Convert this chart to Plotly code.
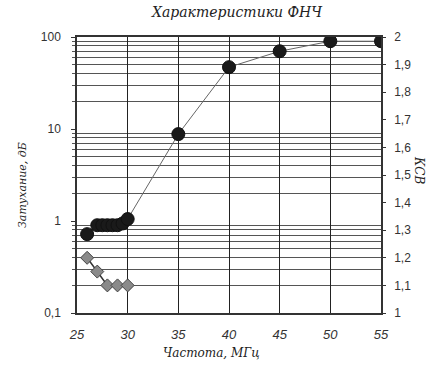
import plotly.graph_objects as go

# Attenuation (dB), left log axis
freq_att = [26, 27, 27.5, 28, 28.5, 29, 29.5, 30, 35, 40, 45, 50, 55]
att_db = [0.72, 0.9, 0.9, 0.9, 0.9, 0.9, 0.94, 1.05, 8.8, 47, 70, 90, 90]

# SWR (КСВ), right linear axis
freq_swr = [26, 27, 28, 29, 30]
swr = [1.2, 1.15, 1.1, 1.1, 1.1]

x_ticks = [25, 30, 35, 40, 45, 50, 55]

L, R, T, B = 77, 55, 37, 56
W, H = 436, 369
pw = W - L - R
ph = H - T - B

fig = go.Figure()
fig.add_trace(go.Scatter(
    x=freq_att, y=att_db, mode="lines+markers", yaxis="y",
    line=dict(color="#666666", width=1),
    marker=dict(symbol="circle", size=13, color="#1a1a1a",
                line=dict(color="#111111", width=1)),
    showlegend=False))
fig.add_trace(go.Scatter(
    x=freq_swr, y=swr, mode="lines+markers", yaxis="y2",
    line=dict(color="#333333", width=1.5),
    marker=dict(symbol="diamond", size=10, color="#8a8a8a",
                line=dict(color="#444444", width=1)),
    showlegend=False))

tickfont = dict(family="Liberation Sans, Arial", size=12, color="#333333")
fig.update_layout(
    width=W, height=H,
    margin=dict(l=L, r=R, t=T, b=B, autoexpand=False),
    paper_bgcolor="white", plot_bgcolor="white",
    separators=", ",
    xaxis=dict(range=[25, 55], tickvals=x_ticks, showgrid=True, automargin=False,
               gridcolor="#222222", gridwidth=1, zeroline=False,
               showline=True, linecolor="#333333", linewidth=2, mirror=True,
               ticks="", ticklabelstandoff=8,
               tickfont=dict(family="Liberation Sans, Arial", size=13,
                             color="#333333", style="italic")),
    yaxis=dict(type="log", range=[-1, 2], dtick=1, showgrid=False, automargin=False,
               zeroline=False, showline=True, linecolor="#333333", linewidth=1.5,
               ticks="outside", ticklen=4, tickcolor="#333333",
               tickfont=tickfont, ticklabelstandoff=8,
               minor=dict(showgrid=True, gridcolor="#555555", gridwidth=1,
                          ticks="outside", ticklen=3, tickcolor="#555555",
                          dtick="D1")),
    yaxis2=dict(range=[1, 2], dtick=0.1, overlaying="y", side="right", automargin=False,
                showgrid=False, zeroline=False, showline=True,
                linecolor="#333333", linewidth=1.5, ticks="outside",
                ticklen=3, tickcolor="#333333", tickfont=tickfont,
                ticklabelstandoff=6),
)

def px_x(px):
    return (px - L) / pw

def px_y(py):
    return 1 - (py - T) / ph

scriptfont = dict(family="DejaVu Serif", size=14, color="#222222", style="italic")
fig.add_annotation(text="Характеристики ФНЧ", xref="paper", yref="paper",
                   x=px_x(237), y=px_y(12), showarrow=False,
                   xanchor="center", yanchor="middle", font=scriptfont)
fig.add_annotation(text="Частота, МГц", xref="paper", yref="paper",
                   x=px_x(211), y=px_y(353), showarrow=False,
                   xanchor="center", yanchor="middle",
                   font=dict(family="DejaVu Serif", size=12, color="#222222", style="italic"))
fig.add_annotation(text="Затухание, дБ", xref="paper", yref="paper",
                   x=px_x(22), y=px_y(185), showarrow=False, textangle=-90,
                   xanchor="center", yanchor="middle",
                   font=dict(family="DejaVu Serif", size=11, color="#222222", style="italic"))
fig.add_annotation(text="КСВ", xref="paper", yref="paper",
                   x=px_x(419), y=px_y(170), showarrow=False, textangle=90,
                   xanchor="center", yanchor="middle",
                   font=dict(family="DejaVu Serif", size=12, color="#222222", style="italic"))

fig.write_html("out.html", config={"displayModeBar": False},
               post_script="document.body.style.margin='0';document.body.style.overflow='hidden';")
